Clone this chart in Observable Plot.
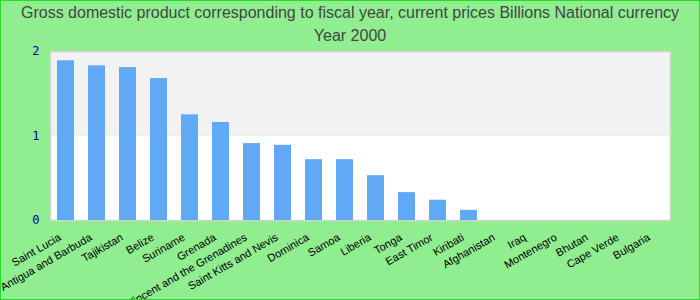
<!DOCTYPE html>
<html><head><meta charset="utf-8">
<script src="https://cdn.jsdelivr.net/npm/d3@7"></script>
<script src="https://cdn.jsdelivr.net/npm/@observablehq/plot@0.6"></script>
<style>
html,body{margin:0;padding:0;background:#90ee90;}
#wrap{position:relative;width:700px;height:300px;background:#90ee90;overflow:hidden;}
#border{position:absolute;left:0;top:0;width:700px;height:300px;box-sizing:border-box;border:1px solid #22dd22;pointer-events:none;}
#title{height:45px;font-family:"Liberation Sans Narrow","Liberation Sans",Arial,sans-serif;font-size:16px;color:#444444;text-align:center;line-height:23px;padding-top:1px;box-sizing:border-box;}
</style></head>
<body><div id="wrap"><div id="title"><div id="t1"></div><div id="t2"></div></div><div id="chart"></div><div id="border"></div></div>
<script>
const titleText = "Gross domestic product corresponding to fiscal year, current prices Billions National currency";
const subtitleText = "Year 2000";
const countries = ["Saint Lucia","Antigua and Barbuda","Tajikistan","Belize","Suriname","Grenada","Saint Vincent and the Grenadines","Saint Kitts and Nevis","Dominica","Samoa","Liberia","Tonga","East Timor","Kiribati","Afghanistan","Iraq","Montenegro","Bhutan","Cape Verde","Bulgaria"];
const values = [1.89,1.83,1.81,1.68,1.25,1.16,0.91,0.89,0.72,0.72,0.53,0.33,0.24,0.12,0,0,0,0,0,0];
const yTicks = [0,1,2];

document.getElementById("t1").textContent = titleText;
document.getElementById("t2").textContent = subtitleText;

const data = countries.map((c,i)=>({country:c, value:values[i]}));

const chart = Plot.plot({
  width: 700, height: 255,
  marginTop: 6, marginBottom: 80, marginLeft: 50, marginRight: 30,
  style: {background: "transparent", fontFamily: "'Liberation Sans', Arial, sans-serif", overflow: "visible"},
  x: {domain: countries, paddingInner: 0.45, paddingOuter: 0.225, label: null},
  y: {domain: [0, 2], label: null},
  marks: [
    Plot.rect([{y1: yTicks[0], y2: yTicks[1]}], {y1: "y1", y2: "y2", fill: "#ffffff"}),
    Plot.rect([{y1: yTicks[1], y2: yTicks[2]}], {y1: "y1", y2: "y2", fill: "#f2f2f2"}),
    Plot.frame({stroke: "#d3d3d3", strokeWidth: 1.5}),
    Plot.barY(data, {x: "country", y: "value", fill: "#62a9f5"}),
    Plot.axisY(yTicks, {tickSize: 0, tickPadding: 11, fontSize: 12, fill: "#000099", fontFamily: "'DejaVu Sans Mono', monospace", tickFormat: d3.format("d"), label: null}),
    Plot.axisX({tickSize: 0, tickPadding: 16, dx: -6, tickRotate: -30, fontSize: 11, fill: "#000000", label: null})
  ]
});
document.getElementById("chart").appendChild(chart);
</script>
</body></html>
